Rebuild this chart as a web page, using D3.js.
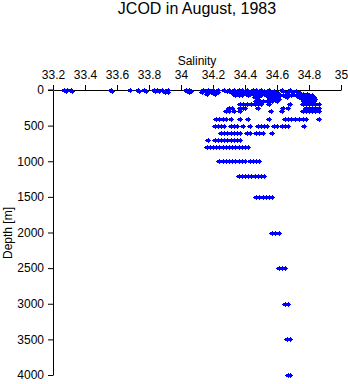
<!DOCTYPE html>
<html><head><meta charset="utf-8">
<script src="https://cdn.jsdelivr.net/npm/d3@7"></script>
<style>body{margin:0;background:#fff}svg{display:block}text{font-family:"Liberation Sans",Arial,sans-serif}</style>
</head><body><svg id="c" width="348" height="384"></svg>
<script>
const title = "JCOD in August, 1983";
const xLabel = "Salinity";
const yLabel = "Depth [m]";
const xTicks = [33.2, 33.4, 33.6, 33.8, 34, 34.2, 34.4, 34.6, 34.8, 35];
const yTicks = [0, 500, 1000, 1500, 2000, 2500, 3000, 3500, 4000];
const depths = [0, 10, 25, 50, 75, 100, 125, 150, 200, 250, 300, 400, 500, 600, 700, 800, 1000, 1200, 1500, 2000, 2500, 3000, 3500, 4000];
const salinities = [
  [33.27, 33.29, 33.31, 33.56, 33.68, 33.73, 33.77, 33.83, 33.85, 33.88, 33.92, 34.03, 34.05, 34.14, 34.17, 34.2, 34.23, 34.27, 34.3, 34.33, 34.36, 34.38, 34.41, 34.45, 34.47, 34.5, 34.55, 34.63, 34.68],
  [33.28, 33.32, 33.57, 33.74, 33.78, 33.84, 33.86, 33.9, 34.04, 34.06, 34.15, 34.18, 34.22, 34.29, 34.32, 34.35, 34.37, 34.4, 34.42, 34.46, 34.49, 34.52, 34.58, 34.64, 34.72],
  [33.9, 33.92, 34.05, 34.13, 34.16, 34.19, 34.23, 34.31, 34.34, 34.36, 34.39, 34.41, 34.44, 34.48, 34.51, 34.53, 34.56, 34.6, 34.66, 34.7, 34.74],
  [34.16, 34.21, 34.33, 34.35, 34.37, 34.39, 34.41, 34.43, 34.45, 34.5, 34.52, 34.55, 34.58, 34.61, 34.67, 34.7, 34.73, 34.76, 34.79],
  [34.34, 34.36, 34.38, 34.42, 34.48, 34.5, 34.53, 34.56, 34.59, 34.62, 34.64, 34.69, 34.72, 34.75, 34.78, 34.8, 34.82],
  [34.46, 34.48, 34.55, 34.57, 34.6, 34.66, 34.74, 34.77, 34.79, 34.81, 34.83],
  [34.48, 34.56, 34.58, 34.61, 34.76, 34.78, 34.8, 34.82, 34.84],
  [34.47, 34.49, 34.51, 34.54, 34.57, 34.6, 34.77, 34.79, 34.81, 34.83],
  [34.37, 34.39, 34.41, 34.44, 34.46, 34.48, 34.5, 34.55, 34.68, 34.76, 34.78, 34.8, 34.82, 34.84, 34.86],
  [34.3, 34.32, 34.37, 34.39, 34.4, 34.48, 34.64, 34.67, 34.78, 34.8, 34.82, 34.84, 34.86],
  [34.28, 34.3, 34.33, 34.37, 34.56, 34.63, 34.76, 34.78, 34.8, 34.82, 34.84, 34.86],
  [34.22, 34.24, 34.26, 34.28, 34.31, 34.37, 34.42, 34.55, 34.65, 34.67, 34.69, 34.71, 34.74, 34.76, 34.78, 34.86],
  [34.21, 34.23, 34.25, 34.27, 34.31, 34.33, 34.35, 34.39, 34.43, 34.48, 34.5, 34.52, 34.54, 34.58, 34.6, 34.63, 34.65, 34.67, 34.77],
  [34.25, 34.27, 34.29, 34.31, 34.33, 34.35, 34.37, 34.41, 34.43, 34.47, 34.49, 34.51, 34.57],
  [34.17, 34.21, 34.23, 34.25, 34.27, 34.29, 34.31, 34.33, 34.35, 34.37],
  [34.16, 34.18, 34.2, 34.22, 34.24, 34.26, 34.28, 34.3, 34.32, 34.34, 34.36, 34.38, 34.4, 34.42],
  [34.24, 34.26, 34.28, 34.3, 34.32, 34.34, 34.36, 34.38, 34.4, 34.43, 34.45, 34.47, 34.49],
  [34.36, 34.38, 34.4, 34.42, 34.44, 34.46, 34.48, 34.5, 34.52],
  [34.47, 34.49, 34.51, 34.53, 34.55, 34.57],
  [34.57, 34.59, 34.61],
  [34.61, 34.63, 34.65],
  [34.65, 34.67],
  [34.66, 34.68],
  [34.67, 34.68]
];

const points = [];
depths.forEach((d, i) => salinities[i].forEach(s => points.push({s, d})));

const svg = d3.select("#c");
const x = d3.scaleLinear().domain([33.2, 35]).range([53, 341]);
const y = d3.scaleLinear().domain([0, 4000]).range([90, 375]);

svg.append("text").attr("x", 197).attr("y", 14).attr("text-anchor", "middle")
  .attr("font-size", 16).text(title);
svg.append("text").attr("x", 197).attr("y", 65).attr("text-anchor", "middle")
  .attr("font-size", 12).text(xLabel);
svg.append("text").attr("transform", "translate(12,233) rotate(-90)").attr("text-anchor", "middle")
  .attr("font-size", 12).text(yLabel);

const xAxis = svg.append("g").attr("transform", "translate(0,90)")
  .call(d3.axisTop(x).tickValues(xTicks).tickFormat(d3.format("")).tickSize(5).tickSizeOuter(0).tickPadding(6));
const yAxis = svg.append("g").attr("transform", "translate(53,0)")
  .call(d3.axisLeft(y).tickValues(yTicks).tickFormat(d3.format("")).tickSize(5).tickSizeOuter(0).tickPadding(4));
[xAxis, yAxis].forEach(a => {
  a.selectAll("text").attr("font-size", 12).attr("fill", "#000").style("font-family", '"Liberation Sans",Arial,sans-serif');
  a.selectAll("line,path").attr("stroke", "#000");
});
svg.append("line").attr("x1", 48).attr("x2", 53).attr("y1", y(0)).attr("y2", y(0)).attr("stroke", "#000");

const marker = "M-2,-1.5H2V1.5H-2Z M-3,-0.5H3V0.5H-3Z M-0.5,-2.5H0.5V2.5H-0.5Z";
svg.append("g").attr("shape-rendering", "crispEdges").selectAll("path").data(points).join("path")
  .attr("transform", p => `translate(${Math.round(x(p.s))},${Math.round(y(p.d)) + 0.5})`)
  .attr("d", marker).attr("fill", "#0000ff");
</script></body></html>
